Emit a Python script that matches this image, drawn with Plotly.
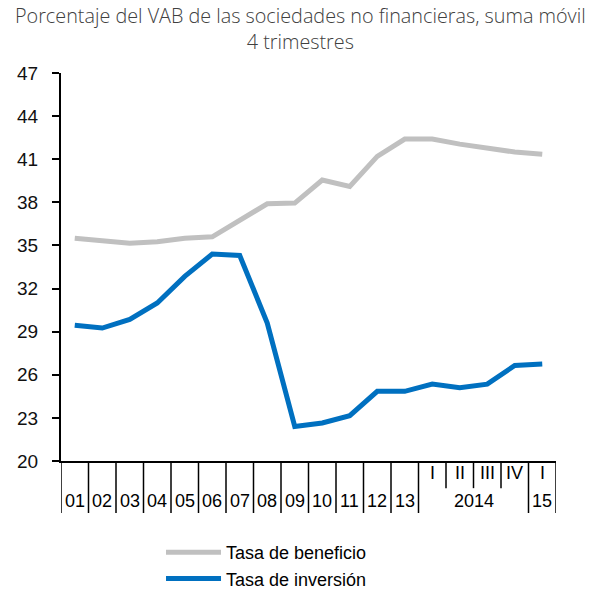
import plotly.graph_objects as go

# categories: 2001..2013 annual, then 2014 quarters and 2015 Q1
years = ["01", "02", "03", "04", "05", "06", "07", "08", "09", "10", "11", "12", "13"]
quarters = ["I", "II", "III", "IV", "I"]
groups = [("2014", 13, 16), ("15", 17, 17)]

beneficio = [35.5, 35.35, 35.15, 35.25, 35.5, 35.6, 36.75, 37.9, 37.95, 39.55,
             39.1, 41.2, 42.4, 42.4, 42.05, 41.75, 41.5, 41.35]
inversion = [29.45, 29.25, 29.85, 31.0, 32.85, 34.4, 34.3, 29.6, 22.4, 22.65,
             23.15, 24.85, 24.85, 25.35, 25.1, 25.35, 26.65, 26.75]

x = list(range(len(beneficio)))

fig = go.Figure()
fig.add_trace(go.Scatter(x=x, y=beneficio, mode="lines", name="Tasa de beneficio",
                         line=dict(color="#C0C0C0", width=5)))
fig.add_trace(go.Scatter(x=x, y=inversion, mode="lines", name="Tasa de inversión",
                         line=dict(color="#0070C0", width=5)))

shapes = []
annotations = []
n = len(x)
for k in range(n + 1):
    b = k - 0.5
    short = k in (14, 15, 16)
    shapes.append(dict(type="line", xref="x", yref="paper", x0=b, x1=b,
                       y0=0, y1=-0.07 if short else -0.134,
                       line=dict(color="black", width=1.5)))

lab_font = dict(size=18, color="black")
for i, lab in enumerate(years):
    annotations.append(dict(x=i, y=-0.103, xref="x", yref="paper", text=lab,
                            yanchor="middle", showarrow=False, font=lab_font))
for j, lab in enumerate(quarters):
    annotations.append(dict(x=13 + j, y=-0.031, xref="x", yref="paper", text=lab,
                            yanchor="middle", showarrow=False, font=lab_font))
for lab, a, b in groups:
    annotations.append(dict(x=(a + b) / 2, y=-0.103, xref="x", yref="paper", text=lab,
                            yanchor="middle", showarrow=False, font=lab_font))

# title
annotations.append(dict(
    x=0.484, y=1.114, xref="paper", yref="paper", xanchor="center", yanchor="middle",
    text="Porcentaje del VAB de las sociedades no financieras, suma móvil<br>4 trimestres",
    showarrow=False,
    font=dict(family="Open Sans", size=19.8, color="#404040", weight=300)))

fig.update_layout(
    width=601, height=590,
    margin=dict(l=53, r=53, t=65, b=137, autoexpand=False),
    paper_bgcolor="white", plot_bgcolor="white",
    font=dict(family="Arial, Liberation Sans", color="#111111"),
    showlegend=True,
    legend=dict(xref="container", yref="container", x=0.2546, xanchor="left",
                y=0.1085, yanchor="top",
                font=dict(size=18, color="black"), bgcolor="rgba(0,0,0,0)",
                itemwidth=55),
    shapes=shapes, annotations=annotations,
)
fig.update_xaxes(range=[-0.5, n - 0.5], showticklabels=False, ticks="",
                 showgrid=False, zeroline=False, showline=True,
                 linecolor="black", linewidth=2)
fig.update_yaxes(range=[20, 47], tickvals=list(range(20, 48, 3)), ticks="outside",
                 ticklen=7, tickcolor="black", tickwidth=1.5, showgrid=False,
                 zeroline=False, showline=True, linecolor="black", linewidth=2,
                 tickfont=dict(size=19), ticklabelstandoff=10)

fig.write_html("out.html")
